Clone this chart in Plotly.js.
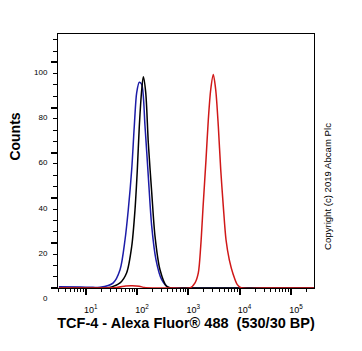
<!DOCTYPE html>
<html>
<head>
<meta charset="utf-8">
<script src="https://cdn.plot.ly/plotly-3.0.1.min.js"></script>
<style>html,body{margin:0;padding:0;background:#fff;}#chart{width:362px;height:351px;}</style>
</head>
<body>
<div id="chart"></div>
<script>
// Series: fluorescence intensity (x) and counts (y)
const blueX = [3, 8, 13.9, 19, 34.5, 46.7, 58.4, 67.6, 78.8, 88.5, 98.6, 110.9, 123.6, 143.3, 166, 193.6, 234.6, 302.9, 407, 549, 1000, 280000];
const blueY = [0.5, 0.4, 0.3, 0.3, 2.3, 8.1, 21.4, 34.7, 52.5, 71.7, 86.6, 91.2, 90.2, 71.7, 49.5, 27.3, 12.5, 3.7, 0.3, 0, 0, 0];

const blackX = [3, 15, 27.2, 46.7, 62.9, 78.8, 91.4, 101.4, 110.9, 123.6, 132.8, 147.9, 166, 193.6, 224.5, 280.7, 379, 474, 1000, 280000];
const blackY = [0, 0, 0.1, 2.3, 6.8, 18.4, 34.7, 52.5, 71.7, 87.9, 93.6, 86.6, 64.4, 42.3, 22.9, 8.1, 0.7, 0, 0, 0];

const redX = [3, 40, 60, 80, 110, 140, 200, 500, 1079, 1352, 1567, 1745, 1960, 2213, 2454, 2733, 3070, 3420, 3845, 4283, 4812, 5432, 6298, 7534, 9010, 10990, 30000, 280000];
const redY = [0, 0.2, 0.9, 1.0, 0.8, 0.2, 0, 0, 0, 2.3, 6.7, 18.4, 37.7, 56.9, 74.6, 87.9, 94.6, 87.9, 71.7, 52.5, 36.2, 21.4, 12.5, 5.9, 1.5, 0, 0, 0];

const xTickVals = [10, 100, 1000, 10000, 100000];
const xTickText = ['10<sup>1</sup>', '10<sup>2</sup>', '10<sup>3</sup>', '10<sup>4</sup>', '10<sup>5</sup>'];
const yTickVals = [0, 20, 40, 60, 80, 100];
const yTickText = ['0', '20', '40', '60', '80', '100'];

const xTitle = 'TCF-4 - Alexa Fluor® 488 \u00a0(530/30 BP)';
const yTitle = 'Counts';
const copyright = 'Copyright (c) 2019 Abcam Plc';

// minor tick positions for log axis (2..9 in each decade)
const minorX = [];
for (let d = 0; d <= 5; d++) for (let k = 2; k <= 9; k++) minorX.push(k * Math.pow(10, d));

const font = 'Liberation Sans, Arial, sans-serif';

const traces = [
  {x: blueX, y: blueY, mode: 'lines', line: {color: '#1c1ca8', width: 1.5, shape: 'spline', smoothing: 0.8}, hoverinfo: 'skip'},
  {x: blackX, y: blackY, mode: 'lines', line: {color: '#000000', width: 1.5, shape: 'spline', smoothing: 0.8}, hoverinfo: 'skip'},
  {x: redX, y: redY, mode: 'lines', line: {color: '#d01818', width: 1.5, shape: 'spline', smoothing: 0.8}, hoverinfo: 'skip'}
];

const layout = {
  width: 362, height: 351,
  margin: {l: 58, r: 48, t: 34, b: 63},
  paper_bgcolor: '#fff', plot_bgcolor: '#fff',
  showlegend: false,
  font: {family: font, color: '#000'},
  xaxis: {
    type: 'log', range: [0.46, 5.45],
    showgrid: false, zeroline: false,
    showline: true, linecolor: '#000', linewidth: 1, mirror: true,
    tickmode: 'array', tickvals: xTickVals, ticktext: xTickText,
    ticks: 'outside', ticklen: 6, tickwidth: 2, tickcolor: '#000',
    ticklabelshift: 5, ticklabelstandoff: 7,
    tickfont: {size: 9, family: font},
    minor: {tickmode: 'array', tickvals: minorX, ticks: 'outside', ticklen: 3, tickwidth: 1, tickcolor: '#000', showgrid: false},
    title: {text: xTitle, font: {size: 14.5, family: font, weight: 'bold'}, standoff: 3}
  },
  yaxis: {
    range: [0, 112.6],
    showgrid: false, zeroline: false,
    showline: true, linecolor: '#000', linewidth: 1, mirror: true,
    tickmode: 'array', tickvals: yTickVals, ticktext: yTickText,
    ticks: 'outside', ticklen: 6, tickwidth: 2, tickcolor: '#000',
    ticklabelshift: 10, ticklabelstandoff: 2,
    tickfont: {size: 8, family: font},
    minor: {dtick: 5, ticks: 'outside', ticklen: 4, tickwidth: 1, tickcolor: '#000', showgrid: false}
  },
  annotations: [
    {text: '<b>' + yTitle + '</b>', xref: 'paper', yref: 'paper', x: -0.168, y: 0.596, showarrow: false, textangle: -90, font: {size: 14, family: font, color: '#000'}, xanchor: 'center', yanchor: 'middle'},
    {text: copyright, xref: 'paper', yref: 'paper', x: 1.052, y: 0.399, showarrow: false, textangle: -90, font: {size: 9.6, family: font, color: '#000'}, xanchor: 'center', yanchor: 'middle'}
  ]
};

Plotly.newPlot('chart', traces, layout, {displayModeBar: false, staticPlot: true});
</script>
</body>
</html>
